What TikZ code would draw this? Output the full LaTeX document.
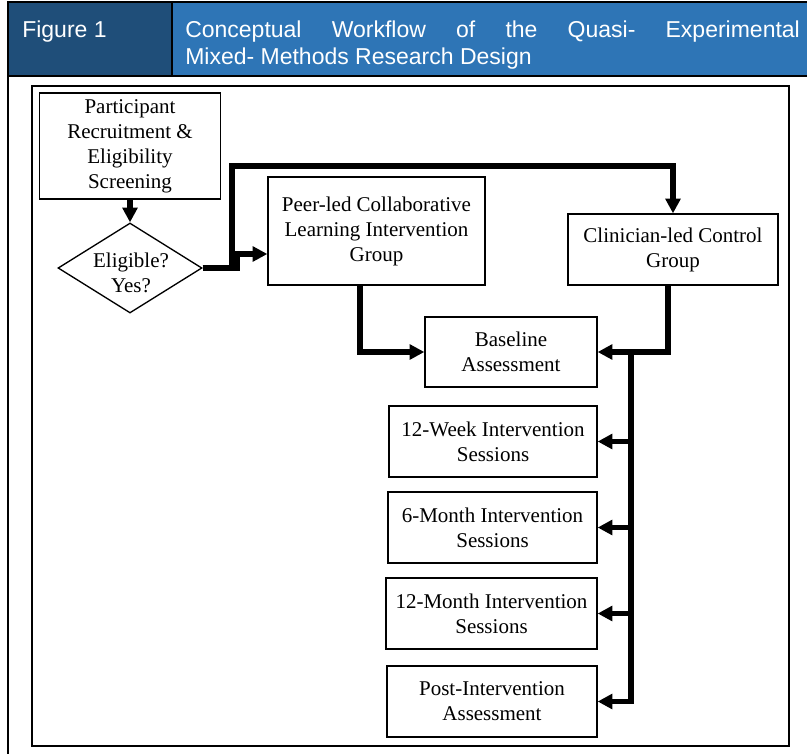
\documentclass[tikz,border=0pt]{standalone}
\usepackage{fontspec}
\setmainfont{Liberation Serif}
\newfontfamily\hdrfont{Liberation Sans}
\usetikzlibrary{shapes.geometric,arrows.meta,calc}
\definecolor{hdrdark}{RGB}{31,78,121}
\definecolor{hdrlight}{RGB}{46,117,182}
\begin{document}
\begin{tikzpicture}[x=0.75pt,y=-0.75pt,
  box/.style={draw, line width=1pt, inner sep=0pt, align=center,
    font=\fontsize{15.75}{18.75}\selectfont},
  conn/.style={line width=4pt, -{Triangle[length=11pt,width=11pt]}, line join=miter},
  hdrtext/.style={anchor=base west, text=white, inner sep=0pt,
    font=\hdrfont\fontsize{17.25}{20}\selectfont},
  frameline/.style={line width=1.5pt}
]
\useasboundingbox (0,0) rectangle (807,754);
% header
\fill[hdrdark] (8,2) rectangle (172,76);
\fill[hdrlight] (172,2) rectangle (807,76);
\draw[frameline] (807,2) -- (8,2) -- (8,754);
\draw[frameline] (8,76) -- (807,76);
\draw[line width=1.2pt] (172,2) -- (172,76);
\node[hdrtext] (fig) at (22,37) {Figure 1};
\node[hdrtext] (title1) at (185,37) {\makebox[461pt][s]{Conceptual Workflow of the Quasi- Experimental}};
\node[hdrtext] (title2) at (185,64) {Mixed- Methods Research Design};
% inner frame
\draw[frameline] (32,86) rectangle (789,746);
% nodes
\node[box, minimum width=135.75pt, minimum height=79.5pt] (part) at (130,146)
  {Participant\\Recruitment \&\\Eligibility\\Screening};
\node[diamond, draw, line width=1pt, inner sep=0pt, minimum width=108pt, minimum height=67.5pt] (elig) at (130,268) {};
\node[align=center, inner sep=0pt, font=\fontsize{15.75}{18.75}\selectfont] (eligtxt) at (131,273) {Eligible?\\Yes?};
\node[box, minimum width=162.75pt, minimum height=81pt] (peer) at (376.5,231)
  {Peer-led Collaborative\\Learning Intervention\\Group};
\node[box, minimum width=157.5pt, minimum height=53.25pt] (clin) at (673,249.5)
  {Clinician-led Control\\Group};
\node[box, minimum width=129pt, minimum height=52.5pt] (base) at (511,352)
  {Baseline\\Assessment};
\node[box, minimum width=156pt, minimum height=53.25pt] (w12) at (493,441.5)
  {12-Week Intervention\\Sessions};
\node[box, minimum width=156.75pt, minimum height=53.25pt] (m6) at (492.5,527.5)
  {6-Month Intervention\\Sessions};
\node[box, minimum width=158.25pt, minimum height=53.25pt] (m12) at (491.5,613.5)
  {12-Month Intervention\\Sessions};
\node[box, minimum width=157.5pt, minimum height=53.25pt] (post) at (492,701.5)
  {Post-Intervention\\Assessment};
% connectors
\coordinate (step) at (237,254);
\coordinate (topy) at (232,166);
\coordinate (bus) at (631,352);
\draw[conn] (part.south) -- (elig.north);
\draw[conn] (elig.east) -| (step) -- (step -| peer.west);
\draw[conn] (elig.east) -- (elig.east -| topy) |- (topy -| clin.north) -- (clin.north);
\draw[conn] ([xshift=-12.4pt]peer.south) |- (base.west);
\draw[conn] ([xshift=-3.75pt]clin.south) |- (base.east);
\draw[conn] (bus) |- (w12.east);
\draw[conn] (bus) |- (m6.east);
\draw[conn] (bus) |- (m12.east);
\draw[conn] (bus) |- (post.east);
\end{tikzpicture}
\end{document}
